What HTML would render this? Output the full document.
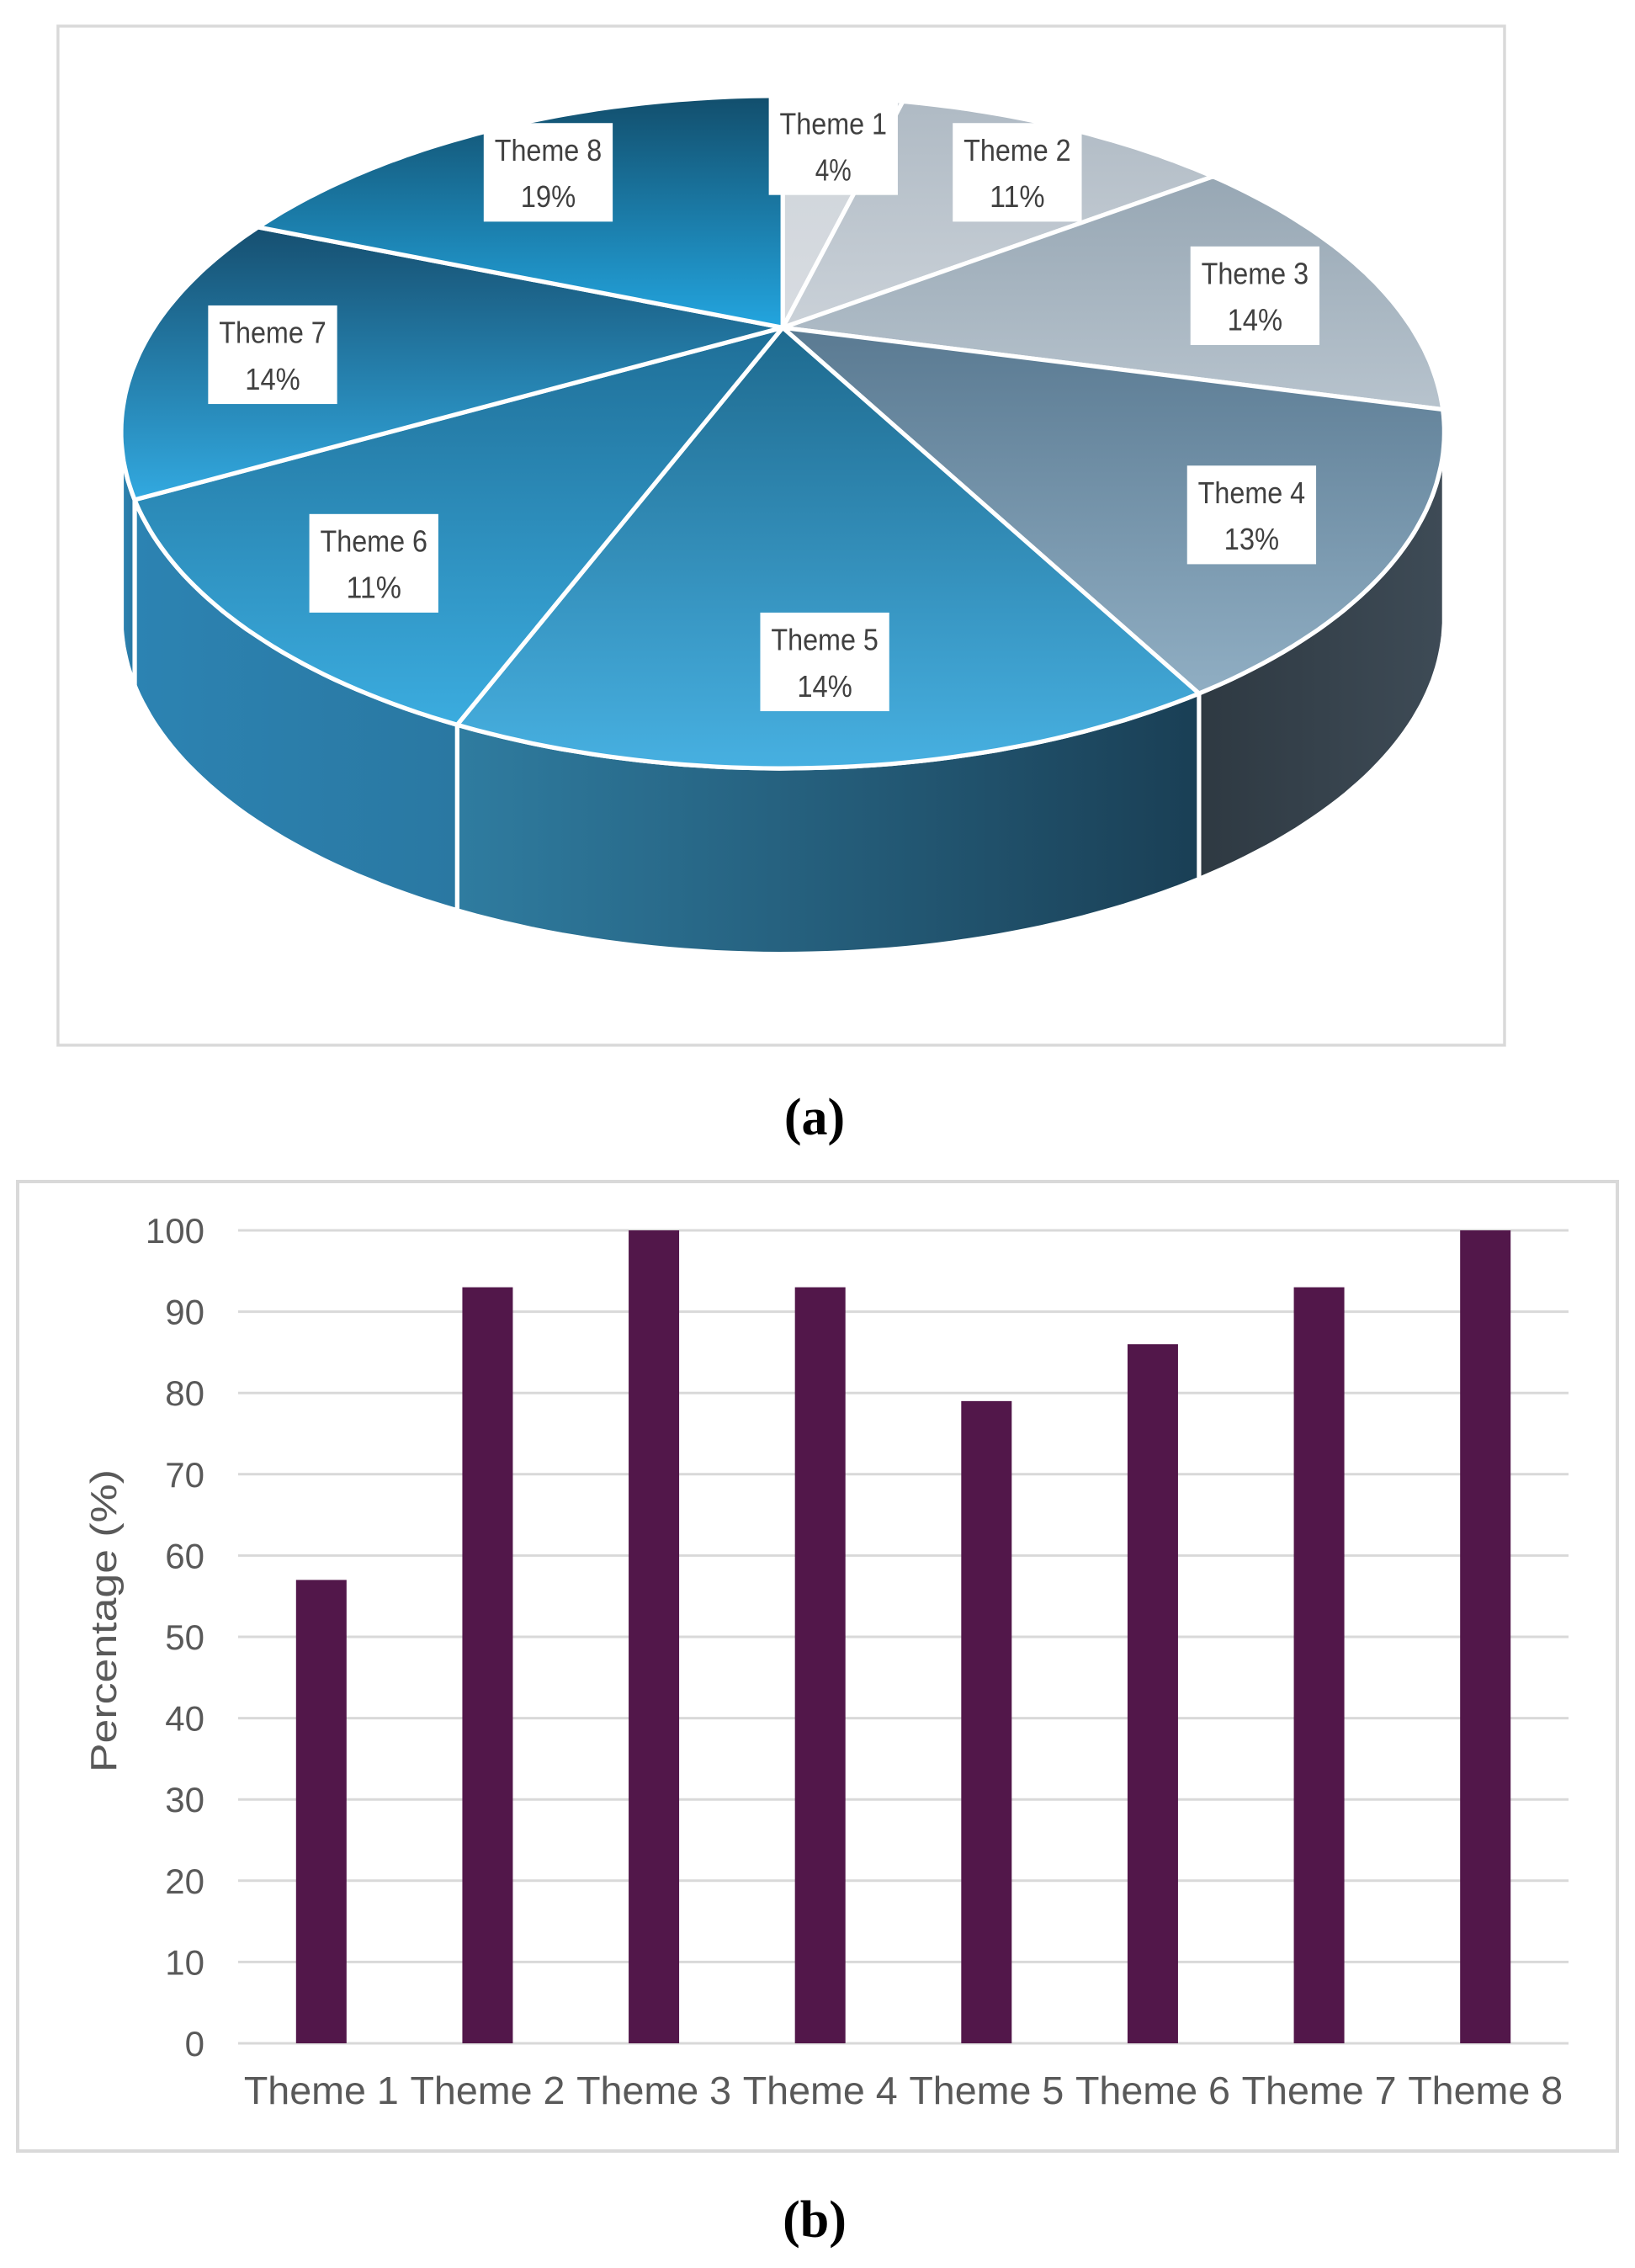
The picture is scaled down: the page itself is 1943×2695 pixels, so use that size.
<!DOCTYPE html>
<html><head><meta charset="utf-8"><style>
html,body{margin:0;padding:0;background:#fff}
svg{display:block}
</style></head><body>
<svg id="fig" xmlns="http://www.w3.org/2000/svg" width="1943" height="2695" viewBox="0 0 1943 2695">
<defs id="defs"></defs>
<g id="pieG" transform="scale(1.72252)">
  <rect x="40" y="18" width="998" height="703" fill="#fff" stroke="#d9d9d9" stroke-width="2"/>
  <g id="pieSides"></g>
  <g id="pieTop"></g>
  <g id="pieLabels"></g>
</g>
<text x="968" y="1348" text-anchor="middle" font-family="Liberation Serif, serif" font-weight="bold" font-size="62" fill="#000">(a)</text>
<g id="barG">
  <rect x="21" y="1404" width="1901" height="1152" fill="#fff" stroke="#d9d9d9" stroke-width="4"/>
  <g id="grid"></g>
  <g id="bars"></g>
  <g id="yticks"></g>
  <g id="xticks"></g>
  <text transform="translate(138,1926) rotate(-90)" text-anchor="middle" font-family="Liberation Sans, sans-serif" font-size="44" fill="#595959" textLength="360" lengthAdjust="spacingAndGlyphs">Percentage (%)</text>
</g>
<text x="968" y="2658" text-anchor="middle" font-family="Liberation Serif, serif" font-weight="bold" font-size="62" fill="#000">(b)</text>
</svg>
<script>
// ---- Pie data ----
const pieCategories = ["Theme 1","Theme 2","Theme 3","Theme 4","Theme 5","Theme 6","Theme 7","Theme 8"];
const pieValues = [4, 11, 14, 13, 14, 11, 14, 19];
const pieTopColors = ["#cdd3d9","#afbac4","#97a7b4","#5a7a92","#1e6a8f","#1f6f98","#164f70","#124e6c"];
const pieBottomColors = ["#d8dce1","#cad1d8","#b7c3cd","#90aec3","#47b0e1","#3bacdf","#32a9e0","#23a5df"];
// ---- Bar data ----
const barCategories = ["Theme 1","Theme 2","Theme 3","Theme 4","Theme 5","Theme 6","Theme 7","Theme 8"];
const barValues = [57, 93, 100, 93, 79, 86, 93, 100];
const yTicks = [0,10,20,30,40,50,60,70,80,90,100];

const NS = "http://www.w3.org/2000/svg";
function mk(tag, attrs, parent){const e=document.createElementNS(NS,tag);for(const k in attrs)e.setAttribute(k,attrs[k]);parent.appendChild(e);return e;}
const defs=document.getElementById('defs');

// perspective projection (pie-group coords)
const AX=540, AY=226, D=3.22, KX=1397, KY=675, THICK=128;
function proj(deg, r){const t=deg*Math.PI/180;const X=r*Math.sin(t), Z=r*Math.cos(t);return [AX+KX*X/(D+Z), AY-KY*Z/(D+Z)];}
const total = pieValues.reduce((a,b)=>a+b,0);
const starts=[]; let acc=0;
pieValues.forEach(v=>{starts.push(acc/total*360); acc+=v;});

// sides
const sideG=document.getElementById('pieSides');
const sideColors=[["#2e3942","#3e4b56"],["#2f7ca0","#1a3f55"],["#2c83b2","#2a78a2"]];
function sidePath(a,b){
  const pts=[];for(let d=a;d<=b+0.001;d+=1){pts.push(proj(Math.min(d,b),1));}
  pts.push(proj(b,1));
  const bot=pts.slice().reverse().map(p=>[p[0],p[1]+THICK]);
  return "M"+pts.concat(bot).map(p=>p[0].toFixed(1)+","+p[1].toFixed(1)).join(" L")+" Z";
}
const visA=108, visB=250;
pieValues.forEach((v,i)=>{
  const a=Math.max(starts[i],visA), b=Math.min(starts[i]+v/total*360,visB);
  if(b<=a) return;
  const gid='sg'+i;
  const lg=mk('linearGradient',{id:gid,x1:'0',y1:'0',x2:'1',y2:'0'},defs);
  const cc = (i===3)?sideColors[0]:(i===4?sideColors[1]:sideColors[2]);
  mk('stop',{offset:'0','stop-color':cc[0]},lg);
  mk('stop',{offset:'1','stop-color':cc[1]},lg);
  const p=mk('path',{d:sidePath(a,b),fill:'url(#'+gid+')',stroke:'#fff','stroke-width':'3','stroke-linejoin':'round'},sideG);
  
  
});

// top slices
const topG=document.getElementById('pieTop');
pieValues.forEach((v,i)=>{
  const a=starts[i], b=starts[i]+v/total*360;
  const gid='tg'+i;
  const lg=mk('linearGradient',{id:gid,x1:'0',y1:'0',x2:'0',y2:'1'},defs);
  mk('stop',{offset:'0','stop-color':pieTopColors[i]},lg);
  mk('stop',{offset:'1','stop-color':pieBottomColors[i]},lg);
  const pts=[[AX,AY]];
  for(let d=a;d<=b+0.001;d+=1){pts.push(proj(Math.min(d,b),1));}
  pts.push(proj(b,1));
  const p=mk('path',{d:"M"+pts.map(q=>q[0].toFixed(1)+","+q[1].toFixed(1)).join(" L")+" Z",fill:'url(#'+gid+')',stroke:'#fff','stroke-width':'3','stroke-linejoin':'round'},topG);
  
  
});

// labels
const labG=document.getElementById('pieLabels');
pieValues.forEach((v,i)=>{
  const mid=starts[i]+v/total*180;
  const c0=proj(mid,0.8);
  const c=[c0[0], c0[1]+8];
  const g=mk('g',{},labG);
  
  
  mk('rect',{x:(c[0]-44.5).toFixed(1),y:(c[1]-34).toFixed(1),width:'89',height:'68',fill:'#fff'},g);
  const t1=mk('text',{x:c[0].toFixed(1),y:(c[1]-8).toFixed(1),'text-anchor':'middle','font-family':'Liberation Sans, sans-serif','font-size':'21',fill:'#404040',textLength:'74',lengthAdjust:'spacingAndGlyphs'},g);
  t1.textContent=pieCategories[i];
  const pct=Math.round(v/total*100)+'%';
  const t2=mk('text',{x:c[0].toFixed(1),y:(c[1]+24).toFixed(1),'text-anchor':'middle','font-family':'Liberation Sans, sans-serif','font-size':'21',fill:'#404040',textLength:(pct.length*12.5).toFixed(0),lengthAdjust:'spacingAndGlyphs'},g);
  t2.textContent=pct;
});

// ---- Bar chart ----
const X0=283, X1=1864, Y100=1462, Y0=2428;
function yScale(v){return Y0-(Y0-Y100)*v/100;}
const bw=(X1-X0)/barCategories.length;
function xCenter(i){return X0+bw*(i+0.5);}
const gridG=document.getElementById('grid'), ytG=document.getElementById('yticks');
yTicks.forEach(t=>{
  const y=yScale(t);
  const l=mk('line',{x1:X0,x2:X1,y1:y,y2:y,stroke:'#d9d9d9','stroke-width':'3'},gridG);
  
  
  const tx=mk('text',{x:243,y:y+15,'text-anchor':'end','font-family':'Liberation Sans, sans-serif','font-size':'42',fill:'#595959'},ytG);
  tx.textContent=t;
  
  
});
const barsG=document.getElementById('bars'), xtG=document.getElementById('xticks');
barValues.forEach((v,i)=>{
  const cx=xCenter(i);
  const r=mk('rect',{x:cx-30,y:yScale(v),width:60,height:Y0-yScale(v),fill:'#52174a'},barsG);
  
  
  const tx=mk('text',{x:cx,y:2500,'text-anchor':'middle','font-family':'Liberation Sans, sans-serif','font-size':'46',fill:'#595959',textLength:'184',lengthAdjust:'spacingAndGlyphs'},xtG);
  tx.textContent=barCategories[i];
  
  
});
</script>
</body></html>
